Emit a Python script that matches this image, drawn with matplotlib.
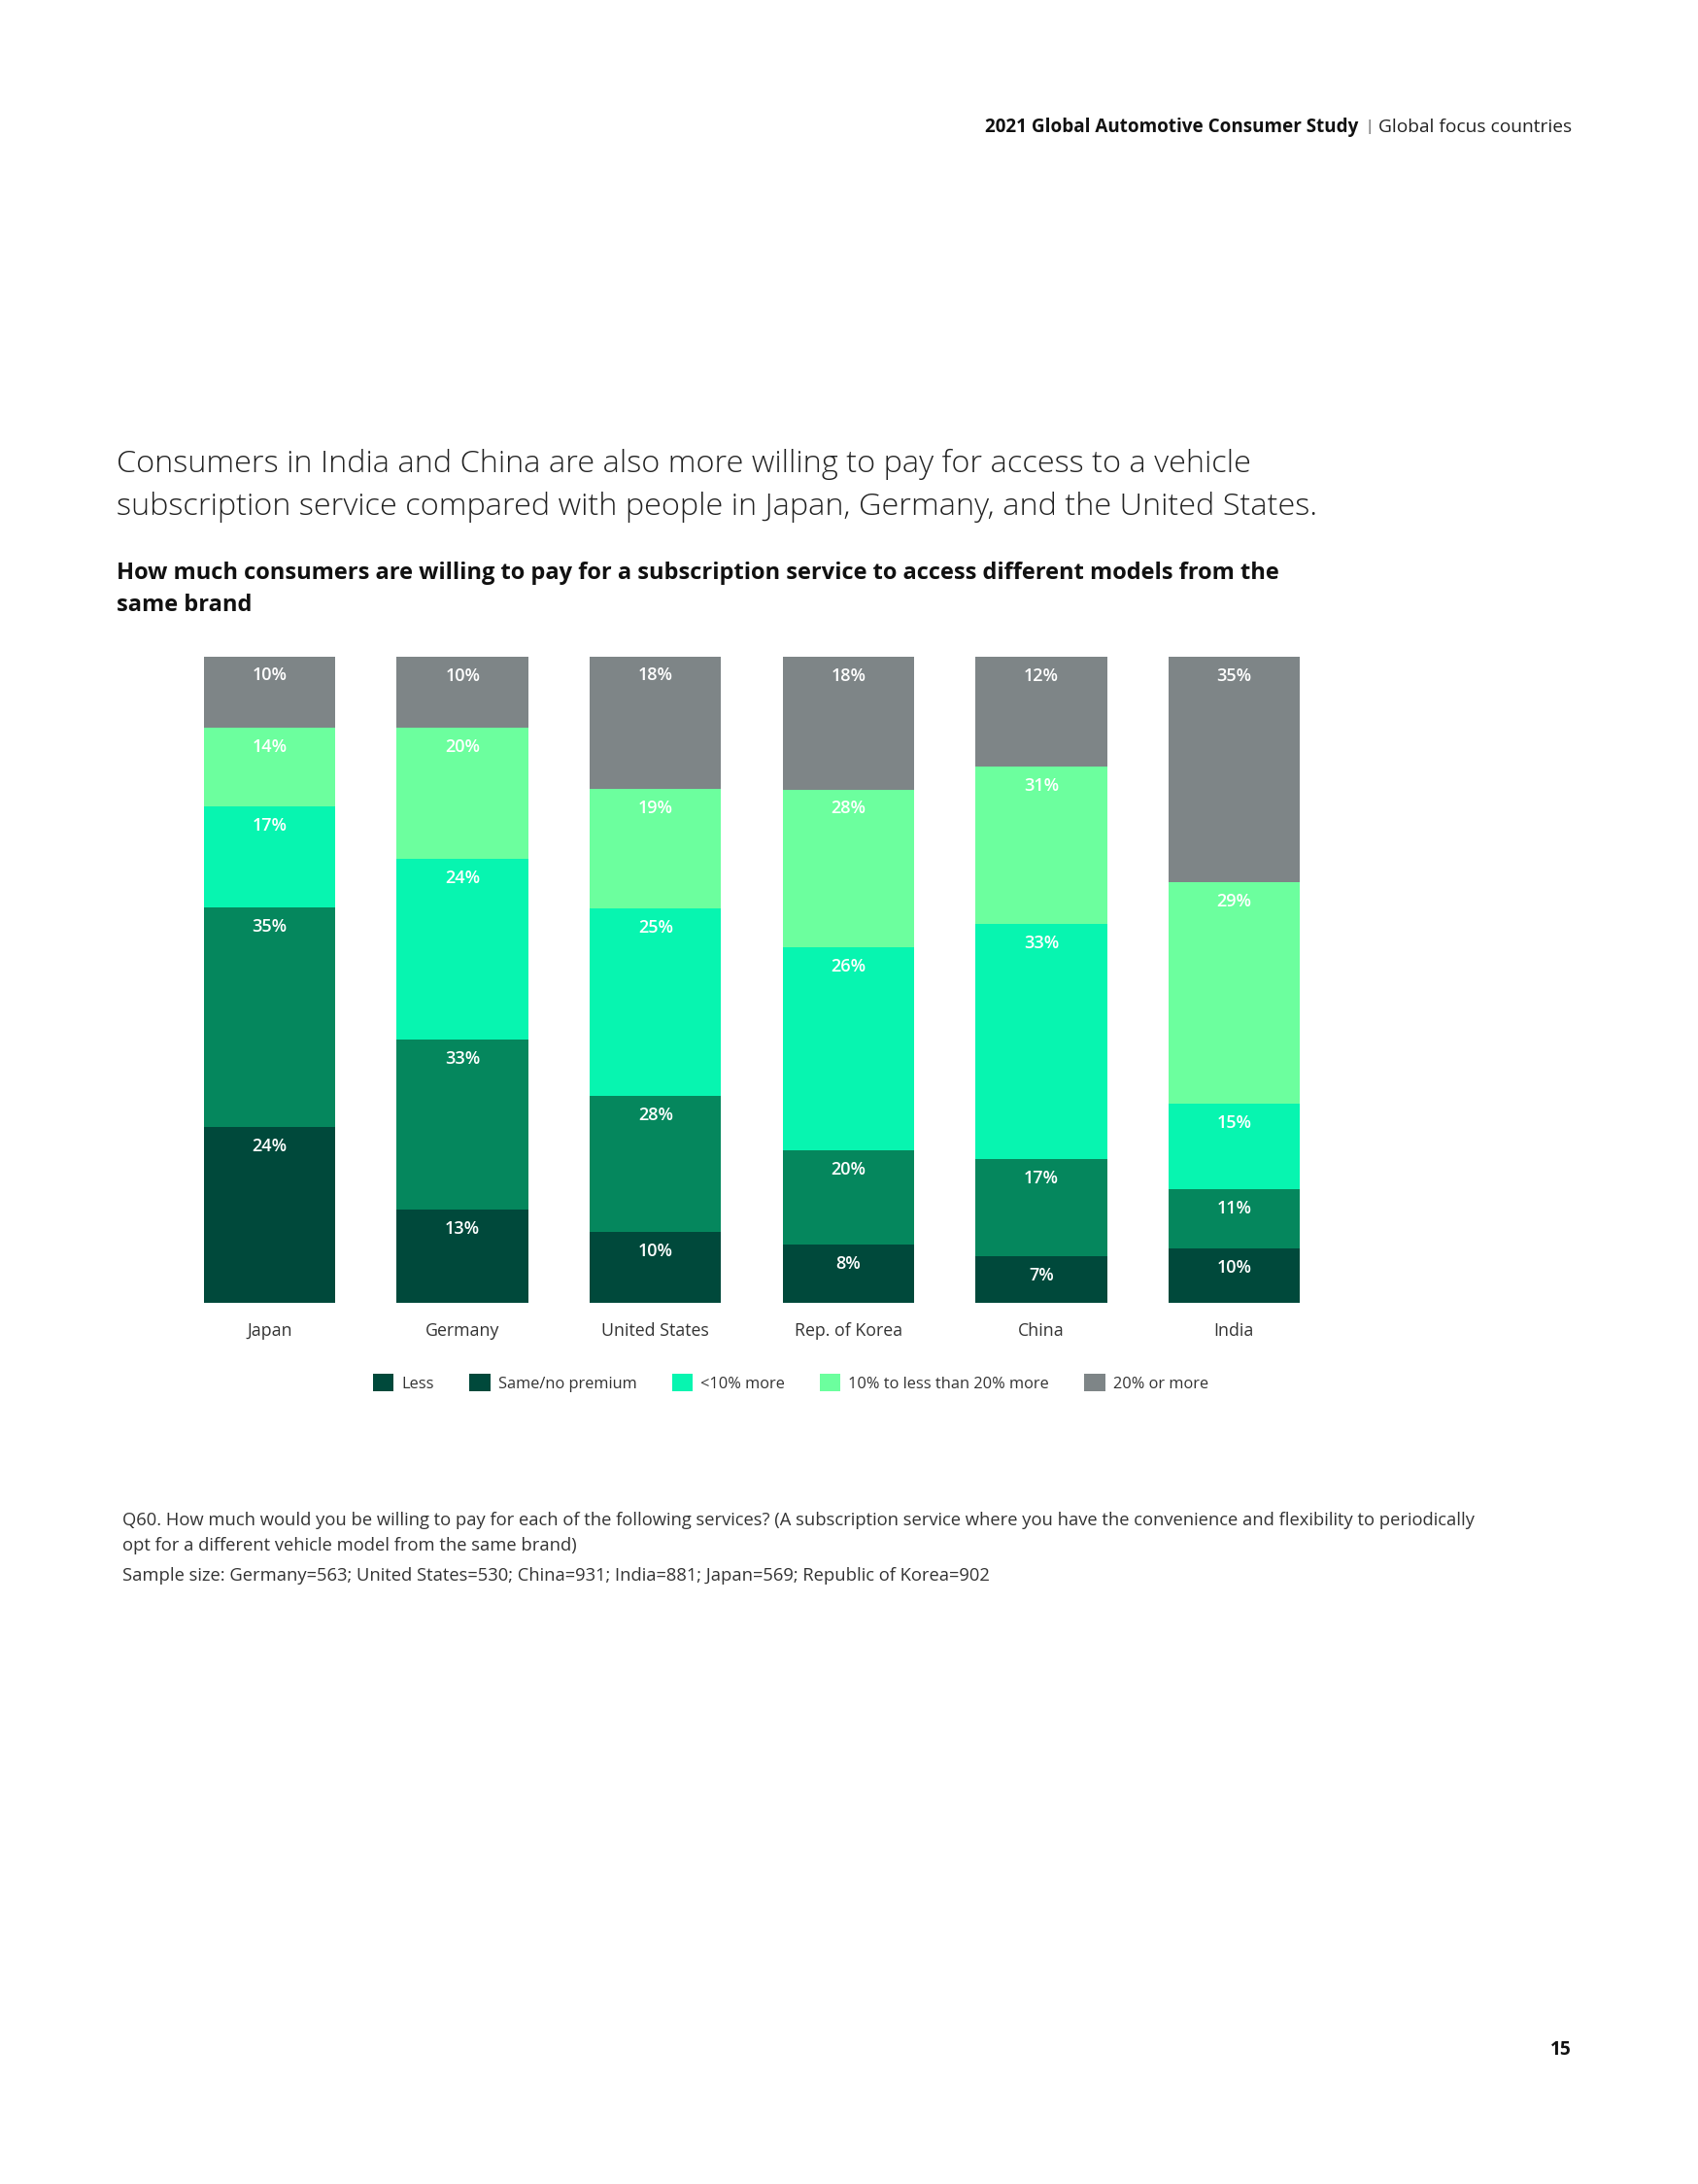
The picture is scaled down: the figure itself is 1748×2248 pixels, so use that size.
import matplotlib.pyplot as plt
import numpy as np
from matplotlib.patches import Patch

countries = ['Japan', 'Germany', 'United States', 'Rep. of Korea', 'China', 'India']
series_names = ['Less', 'Same/no premium', '<10% more', '10% to less than 20% more', '20% or more']

# printed percentages
less = [24, 13, 10, 8, 7, 10]
same = [35, 33, 28, 20, 17, 11]
under10 = [17, 24, 25, 26, 33, 15]
ten_to_20 = [14, 20, 19, 28, 31, 29]
over20 = [10, 10, 18, 18, 12, 35]

# segment heights as drawn in the original (share of bar)
less_h = [27.3, 14.4, 11.0, 9.1, 7.2, 8.5]
same_h = [33.9, 26.4, 21.1, 14.5, 15.1, 9.1]
under10_h = [15.6, 27.9, 29.0, 31.4, 36.4, 13.2]
ten_to_20_h = [12.2, 20.3, 18.5, 24.5, 24.3, 34.3]
over20_h = [11.1, 11.0, 20.5, 20.5, 17.0, 34.9]

bar_colors = ['#00493B', '#05875D', '#07F5B0', '#6CFF9E', '#7E8587']
legend_colors = ['#00493B', '#00493B', '#07F5B0', '#6CFF9E', '#7E8587']

plt.rcParams['font.family'] = ['Open Sans', 'DejaVu Sans']

W, H = 1224, 1584  # layout units of the page
fig = plt.figure(figsize=(17.48, 22.48), dpi=100)
fig.patch.set_facecolor('white')


def fx(x):
    return x / W


def fy(y):
    return 1 - y / H


# header
fig.text(fx(979), fy(92), '2021 Global Automotive Consumer Study', ha='right', va='center',
         fontsize=13.6, fontweight='bold', color='#111111')
fig.text(fx(987), fy(92), '|', ha='center', va='center', fontsize=11, color='#444444')
fig.text(fx(1133), fy(92), 'Global focus countries', ha='right', va='center',
         fontsize=13.8, color='#222222')

# title
fig.text(fx(84), fy(337), 'Consumers in India and China are also more willing to pay for access to a vehicle',
         ha='left', va='center', fontsize=23.4, fontweight='light', color='#222222')
fig.text(fx(84), fy(368), 'subscription service compared with people in Japan, Germany, and the United States.',
         ha='left', va='center', fontsize=23.4, fontweight='light', color='#222222')

fig.text(fx(84), fy(416), 'How much consumers are willing to pay for a subscription service to access different models from the',
         ha='left', va='center', fontsize=17, fontweight='bold', color='#111111')
fig.text(fx(84), fy(439), 'same brand',
         ha='left', va='center', fontsize=17, fontweight='bold', color='#111111')

# chart
ax = fig.add_axes([fx(147), fy(945), fx(937) - fx(147), fy(476) - fy(945)])
x = np.arange(len(countries))
width = 0.682
labels = [less, same, under10, ten_to_20, over20]
heights = [less_h, same_h, under10_h, ten_to_20_h, over20_h]
bottom = np.zeros(len(countries))
for lab, hts, col in zip(labels, heights, bar_colors):
    hts = np.array(hts)
    ax.bar(x, hts, width, bottom=bottom, color=col, edgecolor='none')
    for xi, b, h, v in zip(x, bottom, hts, lab):
        ax.text(xi, b + h - 3.0, f'{v}%', ha='center', va='center',
                fontsize=13, fontweight='semibold', color='white')
    bottom += hts

ax.set_xlim(-width / 2, len(countries) - 1 + width / 2)
ax.set_ylim(0, bottom.max())
ax.set_xticks(x)
ax.set_xticklabels(countries, fontsize=12.8, color='#333333')
ax.tick_params(axis='x', length=0, pad=14)
ax.set_yticks([])
for s in ax.spines.values():
    s.set_visible(False)

handles = [Patch(facecolor=c, edgecolor='none') for c in legend_colors]
fig.legend(handles, series_names, loc='center', bbox_to_anchor=(fx(570), fy(1003)),
           ncol=5, frameon=False, fontsize=11.8, handlelength=1.3, handleheight=1.3,
           handletextpad=0.5, columnspacing=2.2, labelcolor='#333333')

# footnotes
fig.text(fx(88), fy(1103), 'Q60. How much would you be willing to pay for each of the following services? '
         '(A subscription service where you have the convenience and flexibility to periodically',
         ha='left', va='center', fontsize=13.2, color='#333333')
fig.text(fx(88), fy(1121), 'opt for a different vehicle model from the same brand)',
         ha='left', va='center', fontsize=13.2, color='#333333')
fig.text(fx(88), fy(1143), 'Sample size: Germany=563; United States=530; China=931; India=881; Japan=569; Republic of Korea=902',
         ha='left', va='center', fontsize=13.2, color='#333333')

fig.text(fx(1133), fy(1487), '15', ha='right', va='center', fontsize=13.8, fontweight='bold', color='#111111')

fig.savefig('out.png', dpi=100, facecolor='white')
